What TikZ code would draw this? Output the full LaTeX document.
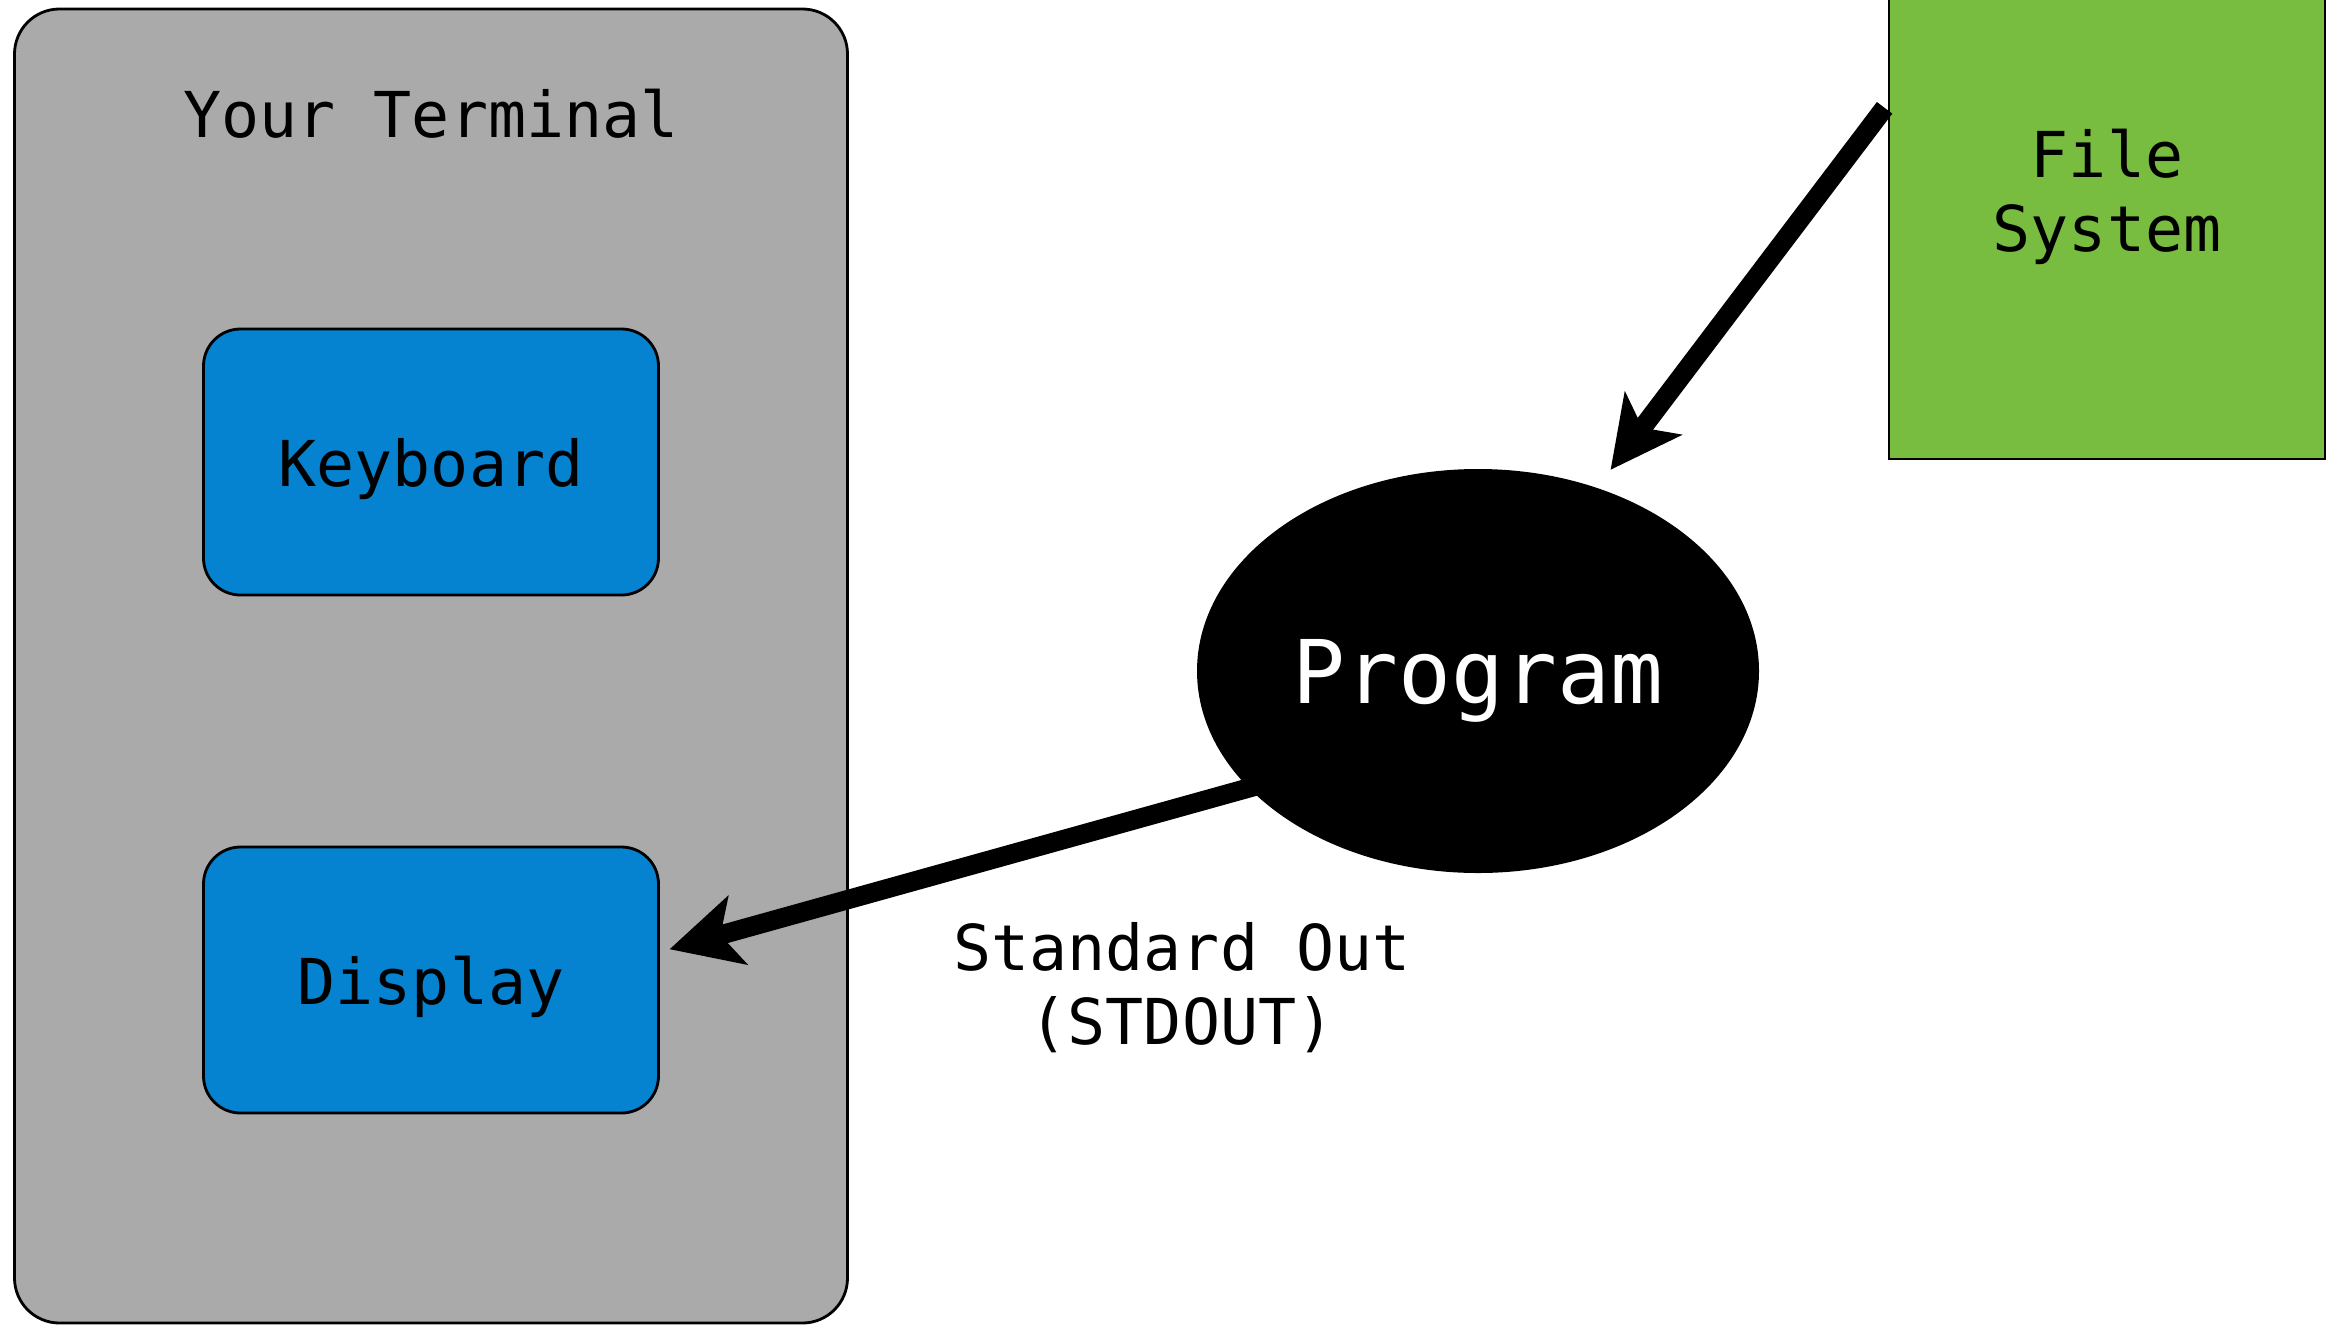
\documentclass[tikz,border=0pt]{standalone}
\usepackage{fontspec}
\setmonofont{DejaVu Sans Mono}
\usetikzlibrary{arrows.meta, shapes.geometric}
\definecolor{termgray}{HTML}{AAAAAA}
\definecolor{devblue}{HTML}{0583D0}
\definecolor{fsgreen}{HTML}{78BC40}
\tikzset{>={Stealth[length=20pt, width=20pt, inset=5pt]}}
\tikzset{
  label/.style={font=\ttfamily\fontsize{18}{21}\selectfont, align=center, inner sep=0pt},
  box/.style={label, draw, line width=0.8pt},
  device/.style={box, fill=devblue, rounded corners=0.37cm, minimum width=4.55cm, minimum height=2.66cm, text depth=0pt},
  flow/.style={->, line width=5.5pt},
}

\begin{document}
\begin{tikzpicture}
\useasboundingbox (0,0) rectangle (23.33,-13.25);
% terminal with its two devices
\node[box, fill=termgray, rounded corners=0.45cm, minimum width=8.33cm, minimum height=13.14cm] (term) at (4.31,-6.66) {};
\node[label] (termname) at (4.31,-1.14) {Your Terminal};
\node[device] (kbd) at (4.31,-4.62) {Keyboard};
\node[device] (disp) at (4.31,-9.80) {Display};
% program and file system
\node[ellipse, fill=black, text=white, minimum width=5.62cm, minimum height=4.04cm, inner sep=0pt, text depth=0pt,
  font=\ttfamily\fontsize{25}{30}\selectfont] (prog) at (14.78,-6.71) {Program};
\node[box, fill=fsgreen, minimum width=4.36cm, minimum height=5.24cm] (fs) at (21.07,-1.97) {File\\System};
\node[label] (stdout) at (11.82,-9.88) {Standard Out\\(STDOUT)};
\draw[flow, shorten <=0.05cm, shorten >=0.22cm] (fs.157.8) -- (prog.57);
\draw[flow, shorten <=-0.1cm, shorten >=0.1cm] (prog.207.5) -- (disp.7.3);
\end{tikzpicture}
\end{document}
